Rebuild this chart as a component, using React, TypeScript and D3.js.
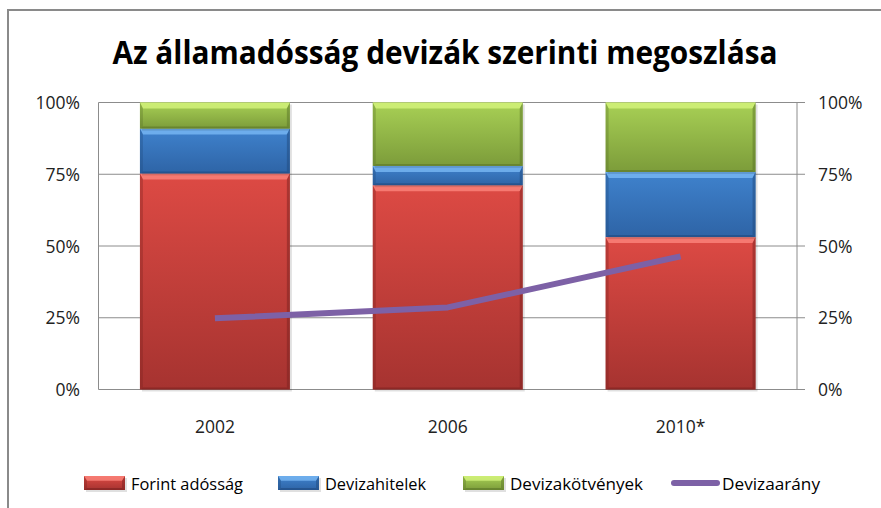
import React from 'react';
import * as d3 from 'd3';

const years = ['2002', '2006', '2010*'];
const forint = [0.753, 0.712, 0.531];
const devizahitel = [0.156, 0.067, 0.227];
const devizakotveny = [0.091, 0.221, 0.242];
const devizaarany = [0.248, 0.286, 0.464];
const yTicks = [0, 0.25, 0.5, 0.75, 1];

const seriesNames = ['Forint adósság', 'Devizahitelek', 'Devizakötvények'];
const lineName = 'Devizaarány';

const palette = [
  { id: 'red', top: '#dd4a44', bottom: '#a63330', light: '#ff8a80', dark: '#7c2220' },
  { id: 'blue', top: '#3f82cd', bottom: '#2e64a6', light: '#7dbcf7', dark: '#204a7e' },
  { id: 'green', top: '#a8d055', bottom: '#7c9c3a', light: '#d8f77f', dark: '#5a7428' },
];
const lineColor = '#7d61a6';

const W = 881;
const H = 508;
const plot = { left: 98.5, right: 797, top: 102.5, bottom: 389.5 };
const FONT = '"Open Sans", "Liberation Sans", sans-serif';

type Seg = { x: number; y0: number; y1: number; w: number; c: number };

// rough imitation of the Office bevel look
const BevelBar: React.FC<{ s: Seg }> = ({ s }) => {
  const { x, y0, y1, w, c } = s;
  const h = y0 - y1;
  const p = palette[c];
  const bt = Math.min(6, h / 3);
  const bs = 3;
  return (
    <g>
      <rect x={x + 2} y={y1 + 2} width={w} height={h} fill="#000" opacity={0.12} />
      <rect x={x} y={y1} width={w} height={h} fill={`url(#grad-${p.id})`} />
      <polygon
        points={`${x},${y1} ${x + w},${y1} ${x + w - bs},${y1 + bt} ${x + bs},${y1 + bt}`}
        fill={p.light}
        opacity={0.75}
      />
      <polygon
        points={`${x},${y1} ${x + bs},${y1 + bt} ${x + bs},${y0 - 2} ${x},${y0}`}
        fill={p.dark}
        opacity={0.35}
      />
      <polygon
        points={`${x + w},${y1} ${x + w - bs},${y1 + bt} ${x + w - bs},${y0 - 2} ${x + w},${y0}`}
        fill={p.dark}
        opacity={0.5}
      />
      <polygon
        points={`${x},${y0} ${x + bs},${y0 - 2} ${x + w - bs},${y0 - 2} ${x + w},${y0}`}
        fill={p.dark}
        opacity={0.6}
      />
    </g>
  );
};

const App: React.FC = () => {
  const x = d3
    .scaleBand<string>()
    .domain(years)
    .range([plot.left, plot.right])
    .paddingInner(0.356)
    .paddingOuter(0.178);

  const y = d3.scaleLinear().domain([0, 1]).range([plot.bottom, plot.top]);

  const rows = years.map((yr, i) => ({
    year: yr,
    a: forint[i],
    b: devizahitel[i],
    c: devizakotveny[i],
  }));
  const stacked = d3.stack<any>().keys(['a', 'b', 'c'])(rows);

  const segs: Seg[] = [];
  stacked.forEach((layer, ci) => {
    layer.forEach((d, i) => {
      segs.push({
        x: x(years[i])!,
        y0: y(d[0]),
        y1: y(d[1]),
        w: x.bandwidth(),
        c: ci,
      });
    });
  });

  const line = d3
    .line<number>()
    .x((_, i) => x(years[i])! + x.bandwidth() / 2)
    .y((d) => y(d));

  const pct = d3.format('.0%');

  const legendItems = [
    { sx: 84, tx: 131, tw: 112, label: seriesNames[0], c: 0 },
    { sx: 278, tx: 325, tw: 101, label: seriesNames[1], c: 1 },
    { sx: 463, tx: 510, tw: 133, label: seriesNames[2], c: 2 },
  ];

  return (
    <svg width={W} height={H} style={{ position: 'absolute', left: 0, top: 0 }}>
      <defs>
        {palette.map((p) => (
          <linearGradient key={p.id} id={`grad-${p.id}`} x1="0" y1="0" x2="0" y2="1">
            <stop offset="0%" stopColor={p.top} />
            <stop offset="100%" stopColor={p.bottom} />
          </linearGradient>
        ))}
      </defs>
      <rect width={W} height={H} fill="#fff" />
      <rect x={8} y={10} width={W + 20} height={H + 20} fill="none" stroke="#8a8a8a" strokeWidth={2} />

      <text
        x={445}
        y={64}
        textAnchor="middle"
        fontFamily={FONT}
        fontWeight="bold"
        fontSize={33}
        fill="#000"
        textLength={665}
        lengthAdjust="spacingAndGlyphs"
      >
        Az államadósság devizák szerinti megoszlása
      </text>

      {/* gridlines */}
      {yTicks.map((t) => (
        <line
          key={t}
          x1={plot.left}
          x2={plot.right + 8}
          y1={y(t)}
          y2={y(t)}
          stroke="#8c8c8c"
          strokeWidth={1}
        />
      ))}
      <line x1={plot.left} x2={plot.left} y1={plot.top} y2={plot.bottom} stroke="#8c8c8c" />
      <line x1={plot.right} x2={plot.right} y1={plot.top} y2={plot.bottom} stroke="#8c8c8c" />

      {yTicks.map((t) => (
        <g key={'l' + t} fontFamily={FONT} fontSize={17.5} fill="#222">
          <text x={80} y={y(t) + 6.5} textAnchor="end">
            {pct(t)}
          </text>
          <text x={818} y={y(t) + 6.5} textAnchor="start">
            {pct(t)}
          </text>
        </g>
      ))}

      {segs.map((s, i) => (
        <BevelBar key={i} s={s} />
      ))}

      <path
        d={line(devizaarany) || ''}
        fill="none"
        stroke={lineColor}
        strokeWidth={6}
        strokeLinejoin="round"
      />

      {years.map((yr) => (
        <text
          key={yr}
          x={x(yr)! + x.bandwidth() / 2}
          y={433}
          textAnchor="middle"
          fontFamily={FONT}
          fontSize={17.5}
          fill="#222"
        >
          {yr}
        </text>
      ))}

      {/* legend */}
      {legendItems.map((it) => (
        <g key={it.label}>
          <BevelBar s={{ x: it.sx, y0: 490, y1: 476, w: 41, c: it.c }} />
          <text
            x={it.tx}
            y={490}
            fontFamily={FONT}
            fontSize={16.5}
            fill="#000"
            textLength={it.tw}
            lengthAdjust="spacingAndGlyphs"
          >
            {it.label}
          </text>
        </g>
      ))}
      <line x1={674} x2={717} y1={483} y2={483} stroke={lineColor} strokeWidth={6} strokeLinecap="round" />
      <text
        x={722}
        y={490}
        fontFamily={FONT}
        fontSize={16.5}
        fill="#000"
        textLength={98}
        lengthAdjust="spacingAndGlyphs"
      >
        {lineName}
      </text>
    </svg>
  );
};

export default App;
